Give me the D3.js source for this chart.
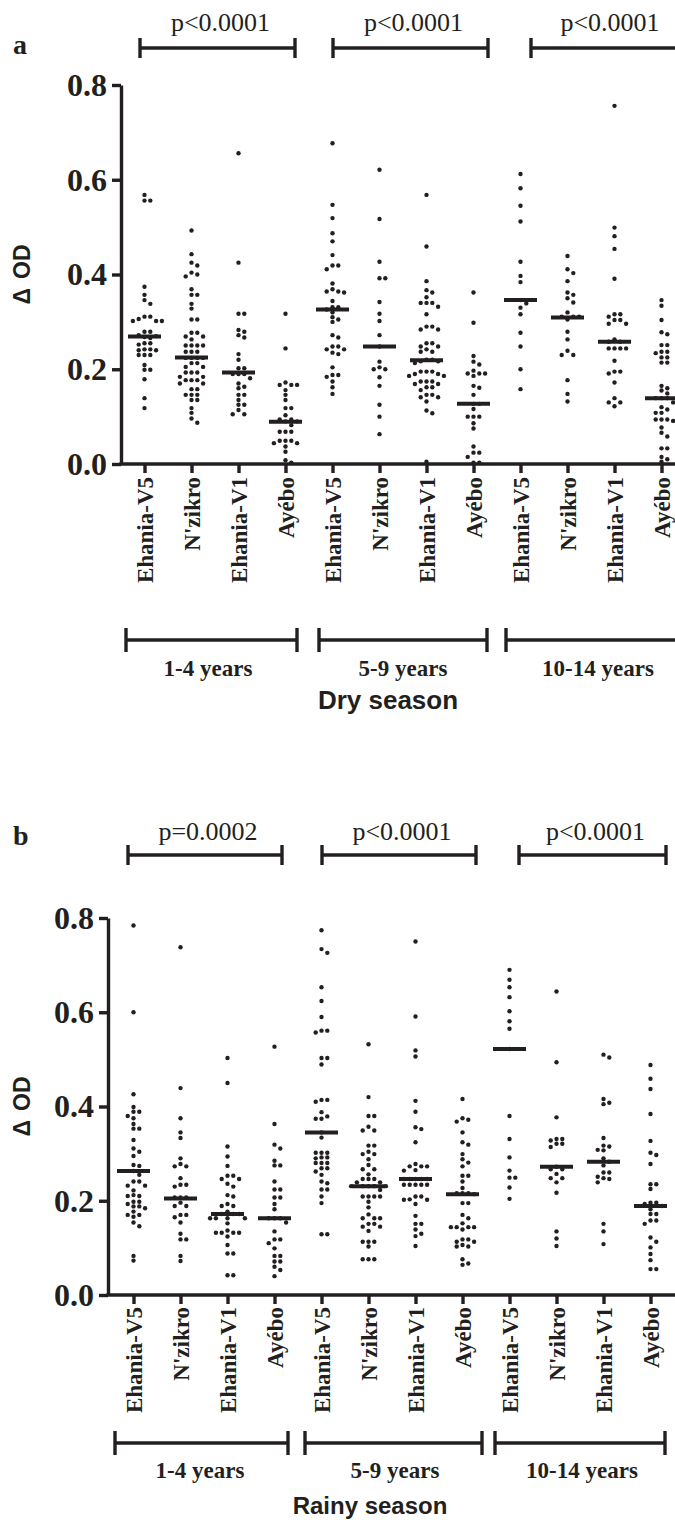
<!DOCTYPE html>
<html><head><meta charset="utf-8">
<script src="https://cdn.jsdelivr.net/npm/d3@7"></script>
<style>body{margin:0;background:#fff}</style>
</head><body>
<svg id="chart" width="675" height="1528"></svg>
<script>
const sites = ["Ehania-V5","N'zikro","Ehania-V1","Ayébo"];
const ageGroups = ["1-4 years","5-9 years","10-14 years"];
const yTicks = [0,0.2,0.4,0.6,0.8];
const dryPValues = ["p<0.0001","p<0.0001","p<0.0001"];
const rainyPValues = ["p=0.0002","p<0.0001","p<0.0001"];

// Dry season: one array per site (Ehania-V5, N'zikro, Ehania-V1, Ayébo) in each age group
const dry1to4 = [
  [0.568,0.556,0.556,0.374,0.357,0.346,0.338,0.311,0.311,0.306,0.302,0.302,0.302,0.279,0.279,0.272,0.27,0.268,0.266,0.255,0.255,0.252,0.242,0.242,0.24,0.24,0.23,0.23,0.23,0.209,0.199,0.199,0.179,0.139,0.118],
  [0.493,0.443,0.425,0.419,0.404,0.4,0.396,0.369,0.357,0.357,0.338,0.328,0.305,0.305,0.277,0.277,0.269,0.269,0.263,0.25,0.25,0.25,0.25,0.237,0.237,0.237,0.224,0.224,0.224,0.224,0.213,0.213,0.205,0.205,0.193,0.193,0.193,0.184,0.184,0.177,0.177,0.177,0.17,0.17,0.158,0.158,0.146,0.146,0.146,0.135,0.135,0.118,0.108,0.096,0.087],
  [0.656,0.425,0.317,0.317,0.283,0.279,0.272,0.267,0.232,0.22,0.202,0.202,0.19,0.19,0.19,0.181,0.17,0.163,0.16,0.146,0.146,0.135,0.125,0.125,0.114,0.105,0.105],
  [0.317,0.244,0.172,0.167,0.167,0.167,0.156,0.146,0.135,0.118,0.118,0.103,0.094,0.094,0.09,0.09,0.082,0.068,0.068,0.068,0.049,0.049,0.049,0.044,0.044,0.037,0.026,0.008,0.003]
];
const dry5to9 = [
  [0.677,0.547,0.519,0.487,0.47,0.441,0.419,0.419,0.411,0.381,0.369,0.364,0.364,0.362,0.344,0.331,0.331,0.326,0.32,0.31,0.305,0.3,0.272,0.267,0.248,0.248,0.242,0.242,0.235,0.232,0.204,0.188,0.188,0.184,0.174,0.162,0.148],
  [0.621,0.517,0.427,0.392,0.392,0.342,0.317,0.302,0.272,0.248,0.216,0.204,0.2,0.2,0.183,0.165,0.125,0.1,0.063],
  [0.568,0.459,0.386,0.367,0.362,0.352,0.34,0.34,0.34,0.332,0.316,0.29,0.29,0.284,0.284,0.255,0.255,0.248,0.248,0.242,0.237,0.237,0.22,0.22,0.217,0.217,0.213,0.195,0.195,0.195,0.19,0.19,0.186,0.186,0.174,0.174,0.174,0.169,0.169,0.162,0.162,0.156,0.146,0.146,0.141,0.141,0.132,0.113,0.107,0.005],
  [0.362,0.298,0.228,0.216,0.21,0.197,0.191,0.191,0.191,0.186,0.165,0.161,0.146,0.127,0.127,0.116,0.1,0.1,0.1,0.086,0.075,0.037,0.024,0.024,0.015,0.003,0.003]
];
const dry10to14 = [
  [0.612,0.582,0.545,0.512,0.427,0.397,0.384,0.346,0.339,0.33,0.316,0.277,0.248,0.2,0.158],
  [0.439,0.411,0.403,0.386,0.362,0.357,0.35,0.341,0.32,0.311,0.311,0.311,0.305,0.279,0.263,0.239,0.23,0.23,0.177,0.148,0.132],
  [0.756,0.499,0.481,0.454,0.391,0.316,0.316,0.311,0.304,0.304,0.296,0.296,0.263,0.258,0.258,0.244,0.244,0.244,0.244,0.218,0.195,0.195,0.191,0.172,0.139,0.13,0.13,0.122],
  [0.346,0.334,0.304,0.278,0.274,0.251,0.251,0.237,0.237,0.234,0.225,0.225,0.214,0.214,0.165,0.16,0.155,0.149,0.139,0.139,0.139,0.13,0.12,0.115,0.108,0.108,0.094,0.094,0.094,0.091,0.077,0.066,0.058,0.033,0.033,0.015,0.01,0.005]
];
const dryMedians = [0.269,0.225,0.193,0.089, 0.326,0.248,0.219,0.127, 0.346,0.309,0.258,0.139];

// Rainy season
const rainy1to4 = [
  [0.784,0.6,0.426,0.399,0.389,0.389,0.38,0.375,0.363,0.353,0.353,0.329,0.311,0.304,0.295,0.276,0.274,0.263,0.255,0.241,0.241,0.232,0.232,0.222,0.212,0.21,0.21,0.198,0.198,0.193,0.188,0.188,0.184,0.177,0.17,0.17,0.166,0.154,0.146,0.083,0.073],
  [0.738,0.439,0.375,0.345,0.333,0.29,0.278,0.273,0.273,0.248,0.234,0.234,0.23,0.207,0.207,0.207,0.196,0.189,0.189,0.17,0.17,0.165,0.154,0.13,0.118,0.118,0.083,0.072],
  [0.503,0.45,0.315,0.294,0.274,0.253,0.253,0.246,0.246,0.236,0.23,0.212,0.209,0.193,0.189,0.189,0.177,0.172,0.172,0.172,0.163,0.163,0.163,0.163,0.152,0.137,0.132,0.132,0.132,0.132,0.124,0.106,0.088,0.088,0.042,0.042],
  [0.527,0.363,0.319,0.311,0.285,0.275,0.275,0.241,0.224,0.224,0.207,0.207,0.193,0.182,0.163,0.163,0.163,0.154,0.135,0.118,0.118,0.11,0.099,0.083,0.083,0.071,0.071,0.06,0.053,0.04]
];
const rainy5to9 = [
  [0.774,0.734,0.726,0.653,0.624,0.59,0.561,0.561,0.557,0.503,0.503,0.489,0.414,0.414,0.41,0.388,0.379,0.374,0.374,0.345,0.334,0.302,0.302,0.302,0.292,0.292,0.29,0.28,0.28,0.28,0.269,0.269,0.262,0.255,0.241,0.237,0.224,0.224,0.209,0.195,0.129,0.129],
  [0.532,0.42,0.38,0.38,0.357,0.349,0.349,0.317,0.317,0.304,0.299,0.299,0.288,0.276,0.267,0.267,0.256,0.246,0.246,0.246,0.239,0.239,0.231,0.231,0.231,0.231,0.231,0.223,0.209,0.209,0.209,0.209,0.198,0.186,0.171,0.163,0.163,0.163,0.151,0.151,0.145,0.145,0.136,0.113,0.113,0.113,0.103,0.076,0.076,0.076],
  [0.75,0.591,0.519,0.506,0.412,0.389,0.356,0.352,0.324,0.278,0.273,0.273,0.273,0.265,0.264,0.246,0.246,0.246,0.246,0.246,0.234,0.234,0.234,0.234,0.234,0.209,0.209,0.203,0.202,0.202,0.193,0.168,0.151,0.151,0.139,0.13,0.125,0.104],
  [0.416,0.375,0.372,0.368,0.345,0.324,0.319,0.299,0.288,0.281,0.273,0.253,0.253,0.241,0.227,0.216,0.216,0.216,0.214,0.195,0.195,0.17,0.163,0.152,0.144,0.144,0.144,0.144,0.139,0.118,0.118,0.113,0.113,0.106,0.103,0.103,0.076,0.067,0.064]
];
const rainy10to14 = [
  [0.69,0.669,0.653,0.632,0.602,0.581,0.565,0.522,0.38,0.331,0.292,0.264,0.249,0.249,0.228,0.204],
  [0.644,0.494,0.377,0.331,0.331,0.328,0.321,0.321,0.314,0.272,0.267,0.267,0.257,0.248,0.248,0.239,0.217,0.135,0.12,0.104],
  [0.51,0.504,0.416,0.408,0.405,0.333,0.317,0.315,0.308,0.307,0.29,0.283,0.275,0.26,0.26,0.251,0.248,0.246,0.239,0.151,0.135,0.108],
  [0.488,0.459,0.437,0.384,0.327,0.302,0.297,0.278,0.235,0.235,0.225,0.196,0.196,0.193,0.189,0.182,0.172,0.172,0.158,0.158,0.151,0.122,0.113,0.101,0.087,0.074,0.055,0.055]
];
const rainyMedians = [0.263,0.205,0.172,0.163, 0.345,0.231,0.246,0.214, 0.522,0.272,0.283,0.189];

const INK = "#231f20";
const SERIF = "'Liberation Serif','Times New Roman',serif";
const SANS = "'Liberation Sans',Arial,sans-serif";
const svg = d3.select("#chart");

function bracket(g, x1, x2, y, h) {
  g.append("line").attr("x1", x1).attr("x2", x2).attr("y1", y).attr("y2", y);
  g.append("line").attr("x1", x1).attr("x2", x1).attr("y1", y - h).attr("y2", y + h);
  g.append("line").attr("x1", x2).attr("x2", x2).attr("y1", y - h).attr("y2", y + h);
  g.selectAll("line").attr("stroke", INK).attr("stroke-width", 3.4);
}

function swarm(values, cx, y, step, minD) {
  const placed = [];
  const sorted = values.slice().sort((a, b) => b - a);
  sorted.forEach(v => {
    const py = y(v);
    for (let k = 0; k < 20; k++) {
      const off = k === 0 ? 0 : (k % 2 ? 1 : -1) * Math.ceil(k / 2) * step;
      const px = cx + off;
      const hit = placed.some(p => (p.x - px) ** 2 + (p.y - py) ** 2 < minD * minD);
      if (!hit) { placed.push({x: px, y: py}); break; }
    }
  });
  return placed;
}

function drawPanel(c) {
  const g = svg.append("g");
  const keys = d3.range(12);
  const x = d3.scalePoint().domain(keys).range(c.xRange).padding(0.5);
  const y = d3.scaleLinear().domain([0, 0.8]).range([c.yBottom, c.yTop]);

  // y axis
  const ya = g.append("g").attr("transform", `translate(${c.axisX},0)`)
    .call(d3.axisLeft(y).tickValues(yTicks).tickFormat(d3.format(".1f")).tickSize(9).tickSizeOuter(0).tickPadding(5));
  ya.select(".domain").attr("stroke", INK).attr("stroke-width", 3.4);
  ya.selectAll(".tick line").attr("stroke", INK).attr("stroke-width", 3.4);
  ya.selectAll(".tick text").attr("fill", INK).style("font-family", SERIF).style("font-weight", "bold").style("font-size", "32px");

  // x axis
  const xa = g.append("g").attr("transform", `translate(0,${c.yBottom})`)
    .call(d3.axisBottom(x).tickSize(9).tickSizeOuter(0).tickFormat(i => sites[i % 4]));
  xa.select(".domain").remove();
  xa.append("line").attr("x1", c.axisX - 1.7).attr("x2", 690).attr("y1", 0).attr("y2", 0)
    .attr("stroke", INK).attr("stroke-width", 3.4);
  xa.selectAll(".tick line").attr("stroke", INK).attr("stroke-width", 3.4);
  xa.selectAll(".tick text")
    .attr("transform", "rotate(-90)").attr("text-anchor", "end")
    .attr("x", -c.catGap).attr("y", 0).attr("dy", "0.35em")
    .attr("fill", INK).style("font-family", SERIF).style("font-weight", "bold").style("font-size", "23px");

  // dots and medians
  const groups = c.data.flat();
  groups.forEach((vals, i) => {
    const pts = swarm(vals, x(i), y, 5.8, 4.6);
    g.append("g").selectAll("circle").data(pts).join("circle")
      .attr("cx", d => d.x).attr("cy", d => d.y).attr("r", 2.2).attr("fill", INK);
    g.append("line").attr("x1", x(i) - 16.5).attr("x2", x(i) + 16.5)
      .attr("y1", y(c.medians[i])).attr("y2", y(c.medians[i]))
      .attr("stroke", INK).attr("stroke-width", 4);
  });

  // p-value brackets
  c.pBrackets.forEach((b, i) => {
    bracket(g.append("g"), b[0], b[1], c.pY, 10);
    g.append("text").attr("x", (b[0] + Math.min(b[1], 683)) / 2 + c.pShift).attr("y", c.pTextY)
      .attr("text-anchor", "middle").attr("fill", INK)
      .style("font-family", SERIF).style("font-size", "26px").text(c.pValues[i]);
  });

  // age group brackets
  c.ageBrackets.forEach((b, i) => {
    bracket(g.append("g"), b[0], b[1], c.ageY, 12);
    g.append("text").attr("x", c.ageLabelX[i]).attr("y", c.ageTextY)
      .attr("text-anchor", "middle").attr("fill", INK)
      .style("font-family", SERIF).style("font-weight", "bold").style("font-size", "23px").text(ageGroups[i]);
  });

  // axis title
  const t = g.append("text").attr("transform", `translate(30,${(c.yTop + c.yBottom) / 2}) rotate(-90)`)
    .attr("text-anchor", "middle").attr("fill", INK)
    .style("font-family", SANS).style("font-weight", "bold").style("font-size", "23px");
  t.append("tspan").text("Δ");
  t.append("tspan").attr("dx", 9).text("OD");

  // panel letter
  g.append("text").attr("x", 13).attr("y", c.letterY).attr("fill", INK)
    .style("font-family", SERIF).style("font-weight", "bold").style("font-size", "28px").text(c.letter);

  // season label
  g.append("text").attr("x", c.seasonX).attr("y", c.seasonY).attr("text-anchor", "middle").attr("fill", INK)
    .style("font-family", SANS).style("font-weight", "bold").style("font-size", c.seasonSize + "px").text(c.season);
}

drawPanel({
  data: [dry1to4, dry5to9, dry10to14], medians: dryMedians, pValues: dryPValues,
  yTop: 85, yBottom: 464, axisX: 121, xRange: [121, 685], catGap: 13,
  pY: 48, pTextY: 31, pShift: 3, pBrackets: [[140, 295], [333, 488], [531, 690]],
  ageY: 640, ageTextY: 676, ageBrackets: [[126, 297], [319, 487], [506, 690]], ageLabelX: [208, 403, 598],
  letter: "a", letterY: 54, season: "Dry season", seasonX: 388, seasonY: 709, seasonSize: 26
});
drawPanel({
  data: [rainy1to4, rainy5to9, rainy10to14], medians: rainyMedians, pValues: rainyPValues,
  yTop: 918, yBottom: 1295, axisX: 108, xRange: [110, 674], catGap: 12,
  pY: 855, pTextY: 840, pShift: 3, pBrackets: [[128, 282], [322, 476], [519, 666]],
  ageY: 1443, ageTextY: 1478, ageBrackets: [[115, 288], [305, 482], [495, 665]], ageLabelX: [200, 395, 582],
  letter: "b", letterY: 845, season: "Rainy season", seasonX: 370, seasonY: 1514, seasonSize: 24
});
</script>
</body></html>
